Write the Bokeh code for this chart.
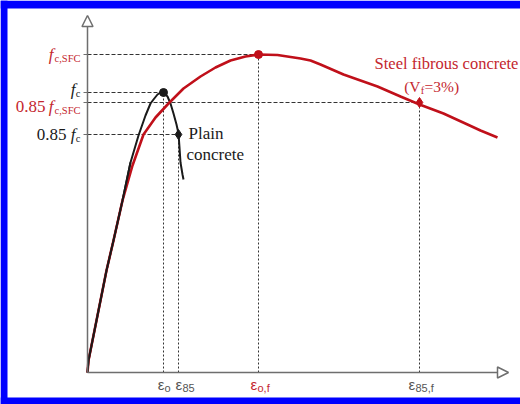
from bokeh.plotting import figure
from bokeh.models import Range1d, Arrow, NormalHead, BoxAnnotation
from bokeh.core.properties import value
from bokeh.embed import file_html
from bokeh.resources import INLINE

# ---- data (schematic stress-strain curves, arbitrary units) ----
sfc_strain = [0, 0.1, 0.4, 0.8, 1.3, 1.9, 2.6, 3.5, 4.5, 5.6, 6.8, 8.1, 9.6, 11.3, 12.8,
              14.3, 15.8, 17.1, 19.0, 21.3, 22.3, 23.3, 25.6, 27.3, 29.0, 31.3, 33.2,
              35.6, 38.0, 39.3, 41.0]
sfc_stress = [0, 1.2, 2.7, 4.7, 7.2, 10.2, 13.2, 17.2, 20.7, 23.8, 25.5, 26.9, 28.4, 29.6,
              30.5, 31.2, 31.6, 31.8, 31.75, 31.4, 31.2, 30.8, 29.8, 29.2, 28.6, 27.6,
              26.8, 25.9, 24.8, 24.2, 23.5]
pc_strain = [0, 0.1, 0.4, 0.8, 1.3, 1.9, 2.6, 3.5, 4.3, 5.1, 5.8, 6.3, 6.6, 7.0, 7.3, 7.6,
             8.0, 8.3, 8.6, 8.9, 9.1, 9.2, 9.3, 9.5, 9.6]
pc_stress = [0, 1.2, 2.7, 4.7, 7.2, 10.2, 13.2, 17.2, 21.0, 23.7, 25.7, 26.9, 27.3, 27.8,
             28.0, 28.0, 27.6, 26.9, 25.9, 24.8, 23.9, 22.5, 21.0, 19.8, 19.3]

eps_o, eps_85 = 7.6, 9.1          # plain concrete
eps_of, eps_85f = 17.1, 33.2      # steel fibrous concrete
f_c, f_c85 = 28.0, 23.8
f_sfc, f_sfc85 = 31.8, 27.0
x_axis_end, y_axis_end = 42.1, 35.7

RED = "#c0101a"
RED_T = "#c4262e"
DARK = "#1a1a1a"
GREY = "#6e6e6e"
BLUE = "#0000ff"
SERIF = value("Liberation Serif")
SANS = value("Liberation Sans")

p = figure(width=520, height=404, x_range=Range1d(-8.7, 43.3), y_range=Range1d(-3.2, 37.2),
           output_backend="svg", toolbar_location=None,
           x_axis_type=None, y_axis_type=None, min_border=0,
           min_border_left=0, min_border_top=0, min_border_bottom=0, min_border_right=0,
           border_fill_color="white", background_fill_color="white",
           outline_line_color=None)
p.grid.visible = False

# blue frame (left, top, bottom)
p.add_layout(BoxAnnotation(right=-8.0, fill_color=BLUE, fill_alpha=1, line_color=None))
p.add_layout(BoxAnnotation(bottom=36.4, fill_color=BLUE, fill_alpha=1, line_color=None))
p.add_layout(BoxAnnotation(top=-2.5, fill_color=BLUE, fill_alpha=1, line_color=None))

# axes with hollow arrow heads
p.add_layout(Arrow(x_start=0, y_start=0, x_end=x_axis_end, y_end=0,
                   line_color=GREY, line_width=1.5,
                   end=NormalHead(size=11, fill_color="white", line_color=GREY, line_width=1.5)))
p.add_layout(Arrow(x_start=0, y_start=0, x_end=0, y_end=y_axis_end,
                   line_color=GREY, line_width=1.5,
                   end=NormalHead(size=11, fill_color="white", line_color=GREY, line_width=1.5)))

# small ticks on y axis
levels = [f_sfc, f_c, f_sfc85, f_c85]
p.segment(x0=[-0.4] * 4, y0=levels, x1=[0] * 4, y1=levels, line_color=GREY, line_width=1)

# horizontal dashed guides
p.segment(x0=[0] * 4, y0=levels, x1=[eps_of, eps_o, eps_85f, eps_85], y1=levels,
          line_color="#333333", line_width=1, line_dash="4 2")
# vertical dotted guides
p.segment(x0=[eps_o, eps_85, eps_of, eps_85f], y0=[0] * 4,
          x1=[eps_o, eps_85, eps_of, eps_85f], y1=[f_c, f_c85, f_sfc, f_sfc85],
          line_color="#333333", line_width=1, line_dash="2 2")

# curves (black drawn over the red where they coincide near the origin)
p.line(pc_strain, pc_stress, line_color=DARK, line_width=2)
p.line(sfc_strain, sfc_stress, line_color=RED, line_width=2.6)
p.line(pc_strain[:9], pc_stress[:9], line_color=DARK, line_width=2)

# markers
p.scatter([eps_o], [f_c], marker="circle", size=8, color=DARK)
p.scatter([eps_85], [f_c85], marker="diamond", size=10, color=DARK)
p.scatter([eps_of], [f_sfc], marker="circle", size=8, color=RED)
p.scatter([eps_85f], [f_sfc85], marker="diamond", size=10, color=RED)

# ---- left labels ----
lx = -0.7
def lbl(x, y, t, color, size, align="right", xo=0, yo=0, style="normal", font=SERIF, base="middle"):
    p.text(x=[x], y=[y], text=[t], text_color=color, text_font=font, text_font_size=size,
           text_font_style=style, text_align=align, text_baseline=base, x_offset=xo, y_offset=yo)

# f_c,SFC
lbl(lx, f_sfc, "c,SFC", RED_T, "10.5px", yo=4)
lbl(lx, f_sfc, "f", RED_T, "17px", xo=-27, style="italic")
# f_c
lbl(lx, f_c + 0.3, "c", DARK, "10.5px", yo=4)
lbl(lx, f_c + 0.3, "f", DARK, "17px", xo=-5, style="italic")
# 0.85 f_c,SFC
lbl(lx, f_sfc85 - 0.4, "c,SFC", RED_T, "10.5px", yo=4)
lbl(lx, f_sfc85 - 0.4, "f", RED_T, "17px", xo=-27, style="italic")
lbl(lx, f_sfc85 - 0.4, "0.85", RED_T, "17px", xo=-35)
# 0.85 f_c
lbl(lx, f_c85, "c", DARK, "10.5px", yo=4)
lbl(lx, f_c85, "f", DARK, "17px", xo=-5, style="italic")
lbl(lx, f_c85, "0.85", DARK, "17px", xo=-14)

# ---- strain labels under x axis ----
ey = -1.2
lbl(eps_o, ey, "ε", "#555555", "15px", align="right", xo=1, font=SANS)
lbl(eps_o, ey, "o", "#555555", "11px", align="left", xo=1, yo=3, font=SANS)
lbl(eps_85, ey, "ε", "#555555", "15px", align="left", xo=-3, font=SANS)
lbl(eps_85, ey, "85", "#555555", "11px", align="left", xo=4, yo=3, font=SANS)
lbl(eps_of, ey, "ε", RED_T, "15px", align="left", xo=-8, font=SANS)
lbl(eps_of, ey, "o,f", RED_T, "11px", align="left", xo=-1, yo=3, font=SANS)
lbl(eps_85f, ey, "ε", "#555555", "15px", align="left", xo=-11, font=SANS)
lbl(eps_85f, ey, "85,f", "#555555", "11px", align="left", xo=-4, yo=3, font=SANS)

# ---- curve annotations ----
lbl(35.9, 30.9, "Steel fibrous concrete", RED_T, "16.5px", align="center")
lbl(33.4, 28.6, "(V", RED_T, "15.5px", align="right", xo=-1)
lbl(33.4, 28.6, "f", RED_T, "10.5px", align="center", xo=1, yo=4)
lbl(33.4, 28.6, "=3%)", RED_T, "15.5px", align="left", xo=3)
lbl(10.1, 23.9, "Plain", DARK, "17px", align="left")
lbl(9.9, 21.8, "concrete", DARK, "17px", align="left")

open("out.html", "w").write(file_html(p, INLINE))
